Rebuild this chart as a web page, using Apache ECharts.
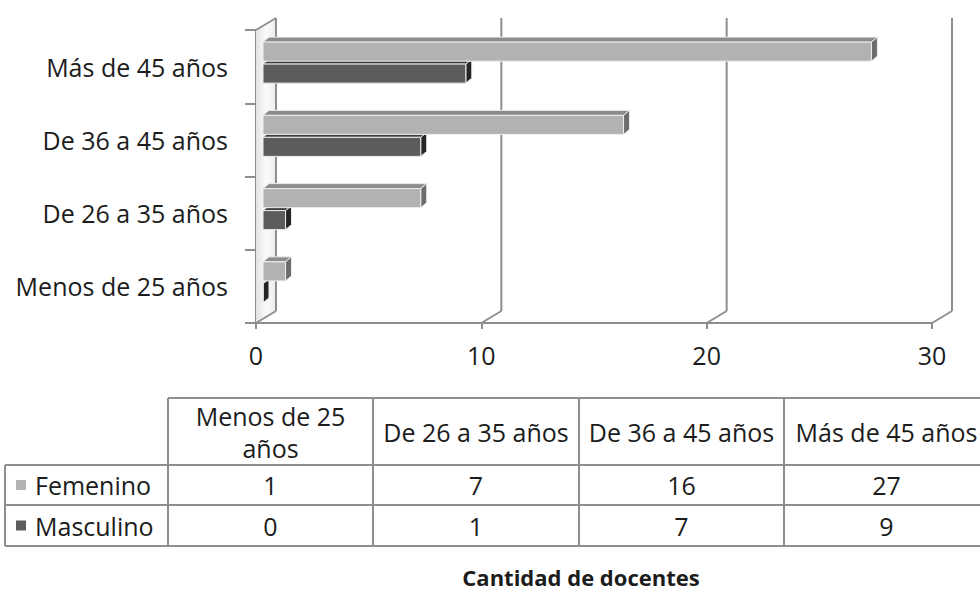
<!DOCTYPE html>
<html><head><meta charset="utf-8">
<script src="https://cdn.jsdelivr.net/npm/echarts@6/dist/echarts.min.js"></script>
<style>html,body{margin:0;padding:0;background:#fff}#c{width:980px;height:592px}</style>
</head><body><div id="c"></div>
<script>
// ---- data ----
const categories = ['Menos de 25 años', 'De 26 a 35 años', 'De 36 a 45 años', 'Más de 45 años'];
const headerLabels = ['Menos de 25\naños', 'De 26 a 35 años', 'De 36 a 45 años', 'Más de 45 años'];
const seriesNames = ['Femenino', 'Masculino'];
const femenino = [1, 7, 16, 27];
const masculino = [0, 1, 7, 9];
const xTicks = [0, 10, 20, 30];
const axisTitle = 'Cantidad de docentes';

// ---- style ----
const FONT = '"Open Sans", "Noto Sans", sans-serif';
const TXT = '#1c1c1c';
const LINE = '#8e8e8e';
const DX = 20, DY = -12;          // wall depth
const FX = 7, FY = -4;            // bar front-face offset
const BX = 6, BY = -5;            // bar depth
const colors = {
  Femenino: { front: '#b2b2b2', top: '#8c8c8c', side: '#6c6c6c' },
  Masculino: { front: '#5c5c5c', top: '#3c3c3c', side: '#252525' }
};

function frameItem(params, api) {
  const cs = params.coordSys;
  const v = api.value(0);
  const x = api.coord([v, 0])[0];
  const top = cs.y, bottom = cs.y + cs.height;
  const st = { stroke: LINE, lineWidth: 2, fill: null };
  const children = [];
  if (v === xTicks[0]) {
    children.push({ type: 'polygon', shape: { points: [[x, top], [x + DX, top + DY], [x + DX, bottom + DY], [x, bottom]] },
      style: { fill: { type: 'linear', x: 0, y: 0, x2: 1, y2: 0, colorStops: [{ offset: 0, color: '#e2e2e2' }, { offset: 0.5, color: '#fbfbfb' }, { offset: 1, color: '#ececec' }] }, stroke: null } });
    children.push({ type: 'line', shape: { x1: x, y1: top, x2: x + DX, y2: top + DY }, style: st });
  }
  children.push({ type: 'line', shape: { x1: x + DX, y1: top + DY, x2: x + DX, y2: bottom + DY }, style: st });
  children.push({ type: 'line', shape: { x1: x, y1: bottom, x2: x + DX, y2: bottom + DY }, style: st });
  return { type: 'group', children };
}

function barRenderer(name, sign) {
  const c = colors[name];
  return function (params, api) {
    const val = api.value(0), idx = api.value(1);
    const p0 = api.coord([0, idx]);
    const p1 = api.coord([val, idx]);
    const band = api.size([0, 1])[1];
    const h = band * 0.26;
    const cy = p0[1] + sign * band * 0.15 + FY;
    const L = p0[0] + FX, R = p1[0] + FX;
    const T = cy - h / 2, B = cy + h / 2;
    const s = { stroke: '#eeeeee', lineWidth: 1 };
    return { type: 'group', children: [
      { type: 'polygon', shape: { points: [[L, T], [R, T], [R + BX, T + BY], [L + BX, T + BY]] }, style: Object.assign({ fill: c.top }, s) },
      { type: 'polygon', shape: { points: [[R, T], [R + BX, T + BY], [R + BX, B + BY], [R, B]] }, style: Object.assign({ fill: c.side }, s) },
      { type: 'rect', shape: { x: L, y: T, width: Math.max(R - L, 0), height: h }, style: Object.assign({ fill: c.front }, s) }
    ] };
  };
}

// ---- table (graphic) ----
function buildTable() {
  const colX = [168, 373, 579, 784, 989];
  const rowY = [398, 465, 505, 546];
  const left = 5;
  const els = [];
  const ls = { stroke: LINE, lineWidth: 2 };
  els.push({ type: 'line', shape: { x1: colX[0], y1: rowY[0], x2: colX[4], y2: rowY[0] }, style: ls });
  for (let r = 1; r < rowY.length; r++) els.push({ type: 'line', shape: { x1: left, y1: rowY[r], x2: colX[4], y2: rowY[r] }, style: ls });
  els.push({ type: 'line', shape: { x1: left, y1: rowY[1], x2: left, y2: rowY[3] }, style: ls });
  colX.forEach(x => els.push({ type: 'line', shape: { x1: x, y1: rowY[0], x2: x, y2: rowY[3] }, style: ls }));
  const txt = (x, y, t, align) => ({ type: 'text', x, y, style: { text: String(t), font: '25px ' + FONT, fill: TXT, align: align || 'center', verticalAlign: 'middle', lineHeight: 32 } });
  headerLabels.forEach((h, i) => els.push(txt((colX[i] + colX[i + 1]) / 2, (rowY[0] + rowY[1]) / 2, h)));
  const rows = [femenino, masculino];
  rows.forEach((vals, r) => {
    const cy = (rowY[r + 1] + rowY[r + 2]) / 2;
    const name = seriesNames[r];
    els.push({ type: 'rect', shape: { x: 16, y: cy - 5, width: 10, height: 10 }, style: { fill: colors[name].front } });
    els.push(txt(35, cy, name, 'left'));
    vals.forEach((v, i) => els.push(txt((colX[i] + colX[i + 1]) / 2, cy, v)));
  });
  els.push({ type: 'text', x: 581, y: 577, style: { text: axisTitle, font: 'bold 22px ' + FONT, fill: TXT, align: 'center', verticalAlign: 'middle' } });
  return els;
}

const chart = echarts.init(document.getElementById('c'), null, { renderer: 'svg' });
chart.setOption({
  animation: false,
  backgroundColor: '#ffffff',
  grid: { left: 256, right: 48, top: 30, bottom: 269 },
  xAxis: {
    type: 'value', min: 0, max: 30, interval: 10,
    axisLine: { show: true, lineStyle: { color: LINE, width: 2 } },
    axisTick: { show: true, length: 6, lineStyle: { color: LINE, width: 2 } },
    axisLabel: { fontFamily: FONT, fontSize: 25, color: TXT, margin: 19 },
    splitLine: { show: false }
  },
  yAxis: {
    type: 'category', data: categories,
    axisLine: { show: true, lineStyle: { color: LINE, width: 2 } },
    axisTick: { show: true, length: 11, lineStyle: { color: LINE, width: 2 } },
    axisLabel: { fontFamily: FONT, fontSize: 25, color: TXT, margin: 28, padding: [6, 0, 0, 0] },
    splitLine: { show: false }
  },
  series: [
    { type: 'custom', name: 'frame', renderItem: frameItem, data: xTicks.map(v => [v]), encode: { x: 0 }, silent: true, z: 1 },
    { type: 'custom', name: seriesNames[1], renderItem: barRenderer('Masculino', 1), data: masculino.map((v, i) => [v, i]), encode: { x: 0, y: 1 }, z: 3 },
    { type: 'custom', name: seriesNames[0], renderItem: barRenderer('Femenino', -1), data: femenino.map((v, i) => [v, i]), encode: { x: 0, y: 1 }, z: 4 }
  ],
  graphic: { elements: buildTable() }
});
</script></body></html>
